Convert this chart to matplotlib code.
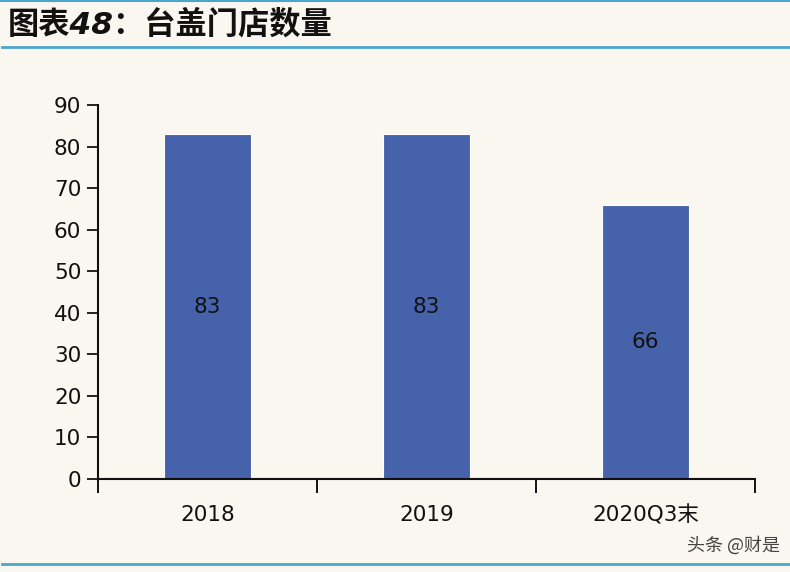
import matplotlib
matplotlib.use("Agg")
import matplotlib.pyplot as plt
from matplotlib.lines import Line2D

plt.rcParams['font.family'] = ['DejaVu Sans', 'Noto Sans CJK SC']

categories = ["2018", "2019", "2020Q3末"]
values = [83, 83, 66]
title = "图表48：台盖门店数量"
watermark = "头条 @财是"

bg = "#FAF6F0"
bar_color = "#4562AA"
line_color = "#4BA6CC"

fig = plt.figure(figsize=(7.9, 5.72), dpi=100, facecolor=bg)
ax = fig.add_axes([98/790, 1 - 479/572, (755-98)/790, (479-105)/572])
ax.set_facecolor(bg)

x = list(range(len(categories)))
bars = ax.bar(x, values, width=0.4, color=bar_color, edgecolor="white", linewidth=0.8, zorder=2)
for xi, v in zip(x, values):
    ax.text(xi, v / 2, str(v), ha="center", va="center", fontsize=15.5, color="#111111")

ax.set_xlim(-0.5, len(categories) - 0.5)
ax.set_ylim(0, 90)
ax.set_yticks(range(0, 91, 10))
ax.tick_params(axis="y", direction="out", length=8, width=1.3, labelsize=15.5, pad=4, colors="#111111")

ax.set_xticks([i - 0.5 for i in range(len(categories) + 1)])
ax.set_xticklabels([])
ax.set_xticks(x, minor=True)
ax.set_xticklabels(categories, minor=True)
ax.tick_params(axis="x", which="major", direction="out", length=10, width=1.3)
ax.tick_params(axis="x", which="minor", length=0, labelsize=15.5, pad=19, colors="#111111")

for s in ["top", "right"]:
    ax.spines[s].set_visible(False)
for s in ["left", "bottom"]:
    ax.spines[s].set_linewidth(1.5)
    ax.spines[s].set_color("#111111")

fig.text(8/790, 1 - 24/572, title, fontsize=22.5, fontweight="heavy", style="italic",
         ha="left", va="center", color="#111111")
fig.add_artist(Line2D([0, 1], [1 - 1/572, 1 - 1/572], color=line_color, lw=1.5, transform=fig.transFigure))
fig.add_artist(Line2D([2/790, 1], [1 - 47/572, 1 - 47/572], color=line_color, lw=2, transform=fig.transFigure))
fig.add_artist(Line2D([2/790, 1], [1 - 564/572, 1 - 564/572], color=line_color, lw=2, transform=fig.transFigure))
fig.text(780/790, 1 - 545/572, watermark, fontsize=13, ha="right", va="center", color="#444444",
         family=['Noto Sans CJK SC', 'DejaVu Sans'])

fig.savefig("out.png", dpi=100, facecolor=bg)
